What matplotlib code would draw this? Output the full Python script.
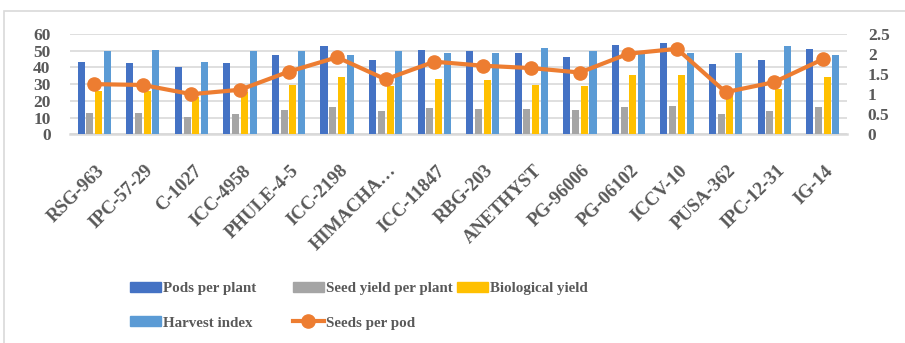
import matplotlib
matplotlib.use("Agg")
import matplotlib.pyplot as plt
import numpy as np
from matplotlib.patches import Patch, Rectangle
from matplotlib.lines import Line2D

# Chickpea genotypes and measured traits
genotypes = ["RSG-963", "IPC-57-29", "C-1027", "ICC-4958", "PHULE-4-5", "ICC-2198",
             "HIMACHA…", "ICC-11847", "RBG-203", "ANETHYST", "PG-96006", "PG-06102",
             "ICCV-10", "PUSA-362", "IPC-12-31", "IG-14"]
pods_per_plant = [43.5, 42.7, 40.3, 42.7, 47.2, 53.0, 44.2, 50.4, 50.0, 48.4, 46.0, 53.4,
                  54.8, 42.1, 44.2, 51.0]
seed_yield_per_plant = [12.8, 12.8, 10.2, 12.2, 14.6, 16.3, 14.0, 15.9, 15.3, 15.3, 14.4, 16.5,
                        16.9, 12.0, 14.0, 16.1]
biological_yield = [26.1, 25.7, 22.5, 25.5, 29.7, 34.5, 28.9, 33.1, 32.7, 29.7, 28.9, 35.3,
                    35.3, 24.5, 26.9, 34.3]
harvest_index = [50.0, 50.4, 43.1, 50.0, 49.8, 47.4, 49.8, 48.6, 48.6, 51.6, 49.8, 48.6,
                 48.6, 48.6, 52.8, 47.4]
seeds_per_pod = [1.25, 1.23, 1.00, 1.11, 1.56, 1.92, 1.37, 1.81, 1.71, 1.65, 1.54, 2.01,
                 2.13, 1.05, 1.30, 1.87]

left_ticks = [0, 10, 20, 30, 40, 50, 60]
right_ticks = [0, 0.5, 1, 1.5, 2, 2.5]
right_tick_labels = ["0", "0.5", "1", "1.5", "2", "2.5"]

bar_series = [
    ("Pods per plant", pods_per_plant, "#4472C4"),
    ("Seed yield per plant", seed_yield_per_plant, "#A5A5A5"),
    ("Biological yield", biological_yield, "#FFC000"),
    ("Harvest index", harvest_index, "#5B9BD5"),
]
line_color = "#ED7D31"
text_color = "#595959"
grid_color = "#D9D9D9"

plt.rcParams["font.family"] = ["Liberation Serif", "DejaVu Serif"]
plt.rcParams["font.weight"] = "bold"

W, H = 905, 343
fig = plt.figure(figsize=(W / 100, H / 100), dpi=100)
fig.patch.set_facecolor("white")

# chart border (top and left edges visible)
fig.patches.append(Rectangle((4 / W, -0.1), 1.2, 1 - 11 / H + 0.1, transform=fig.transFigure,
                             fill=False, edgecolor=grid_color, linewidth=1.2))

ax = fig.add_axes([70 / W, 1 - 134.3 / H, (847 - 70) / W, (134.3 - 34) / H])
x = np.arange(len(genotypes))
step, width = 0.18, 0.145
for i, (name, vals, col) in enumerate(bar_series):
    ax.bar(x + (i - 1.5) * step, vals, width, color=col, label=name, zorder=2)

ax.set_xlim(-0.5, len(genotypes) - 0.5)
ax.set_ylim(0, 60)
ax.set_yticks(left_ticks)
ax.set_yticklabels([str(t) for t in left_ticks])
ax.yaxis.grid(True, color=grid_color, linewidth=1.2, zorder=0)
ax.set_axisbelow(True)
for s in ["top", "right", "left"]:
    ax.spines[s].set_visible(False)
ax.spines["bottom"].set_color(grid_color)
ax.spines["bottom"].set_linewidth(1.8)
ax.spines["bottom"].set_zorder(1)
ax.tick_params(axis="y", length=0, pad=14, labelsize=12.5, labelcolor=text_color)
ax.set_xticks(x + 0.04)
ax.set_xticklabels(genotypes, rotation=45, ha="right", rotation_mode="anchor")
ax.tick_params(axis="x", length=0, pad=20, labelsize=13.5, labelcolor=text_color)

ax2 = ax.twinx()
ax2.plot(x, seeds_per_pod, color=line_color, linewidth=3.0, marker="o", markersize=9.5,
         zorder=5)
ax2.set_ylim(0, 2.5)
ax2.set_yticks(right_ticks)
ax2.set_yticklabels(right_tick_labels)
for s in ["top", "right", "left", "bottom"]:
    ax2.spines[s].set_visible(False)
ax2.tick_params(axis="y", length=0, pad=15, labelsize=12.5, labelcolor=text_color)

# legend laid out in three columns
handles = [Patch(color=c) for _, _, c in bar_series]
line_handle = Line2D([], [], color=line_color, linewidth=3.0, marker="o", markersize=9.5)
columns = [
    (130, [(handles[0], "Pods per plant"), (handles[3], "Harvest index")]),
    (293, [(handles[1], "Seed yield per plant"), (line_handle, "Seeds per pod")]),
    (457, [(handles[2], "Biological yield")]),
]
for xpos, items in columns:
    leg = fig.legend([h for h, _ in items], [t for _, t in items],
                     loc="upper left", bbox_to_anchor=(xpos / W, 1 - 282 / H),
                     frameon=False, borderpad=0, borderaxespad=0,
                     handlelength=2.05, handleheight=0.65, handletextpad=0.15,
                     labelspacing=1.4, prop={"size": 10.8, "weight": "bold"})
    for t in leg.get_texts():
        t.set_color(text_color)

fig.savefig("out.png", dpi=100)
